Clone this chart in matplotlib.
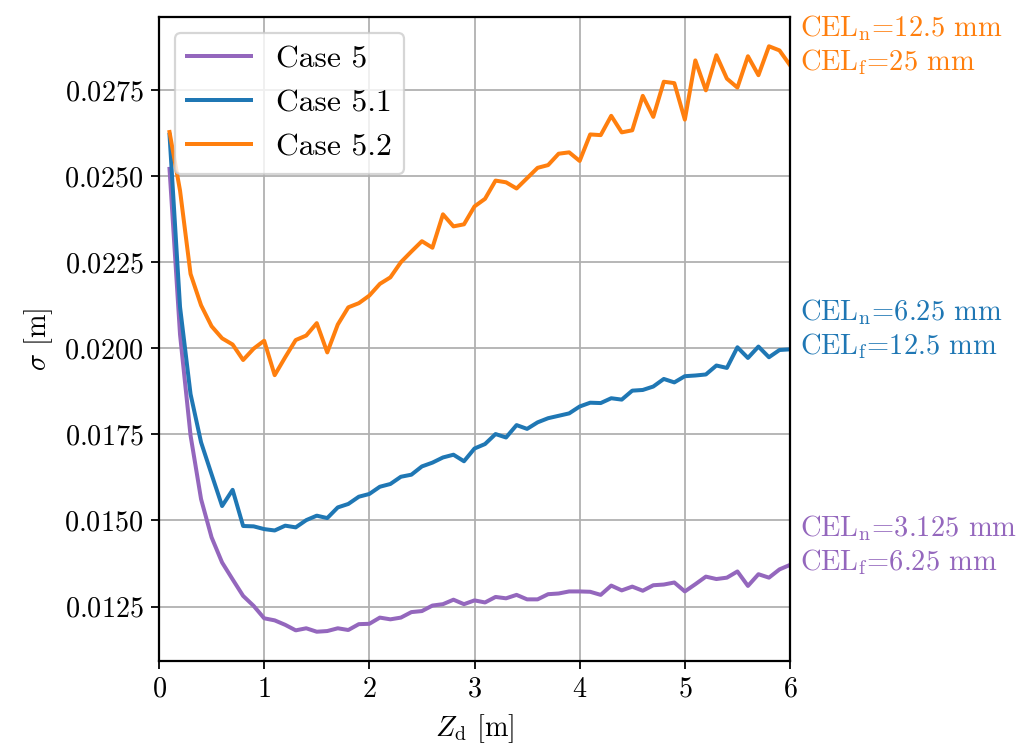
import numpy as np
import matplotlib
matplotlib.use('Agg')
import matplotlib.pyplot as plt
from matplotlib.ticker import MultipleLocator

plt.rcParams['font.family'] = 'serif'
plt.rcParams['font.serif'] = ['cmr10']
plt.rcParams['mathtext.fontset'] = 'cm'
plt.rcParams['axes.formatter.use_mathtext'] = True
plt.rcParams['axes.unicode_minus'] = False
plt.rcParams['font.size'] = 12.7
plt.rcParams['axes.linewidth'] = 1.0

# distance from nozzle [m]
z_d = np.round(np.arange(1, 61) * 0.1, 1)

# Case 5  (CEL_n = 3.125 mm, CEL_f = 6.25 mm)
sigma_case5 = [
    0.02521, 0.02040, 0.01747, 0.01562, 0.01451, 0.01378, 0.01329, 0.01281, 0.01252, 0.01216,
    0.01210, 0.01197, 0.01181, 0.01187, 0.01177, 0.01179, 0.01187, 0.01182, 0.01199, 0.01200,
    0.01218, 0.01213, 0.01218, 0.01234, 0.01237, 0.01253, 0.01257, 0.01270, 0.01257, 0.01268,
    0.01262, 0.01278, 0.01274, 0.01284, 0.01271, 0.01271, 0.01286, 0.01288, 0.01294, 0.01294,
    0.01293, 0.01284, 0.01311, 0.01297, 0.01308, 0.01296, 0.01312, 0.01314, 0.01320, 0.01294,
    0.01315, 0.01337, 0.01330, 0.01334, 0.01352, 0.01310, 0.01344, 0.01334, 0.01358, 0.01371,
]

# Case 5.1  (CEL_n = 6.25 mm, CEL_f = 12.5 mm)
sigma_case51 = [
    0.02620, 0.02120, 0.01867, 0.01727, 0.01634, 0.01542, 0.01589, 0.01484, 0.01483, 0.01475,
    0.01471, 0.01485, 0.01480, 0.01501, 0.01514, 0.01507, 0.01538, 0.01548, 0.01569, 0.01577,
    0.01598, 0.01606, 0.01627, 0.01633, 0.01657, 0.01668, 0.01683, 0.01691, 0.01672, 0.01709,
    0.01722, 0.01751, 0.01741, 0.01777, 0.01766, 0.01785, 0.01797, 0.01804, 0.01811, 0.01831,
    0.01842, 0.01841, 0.01855, 0.01851, 0.01877, 0.01879, 0.01889, 0.01911, 0.01901, 0.01919,
    0.01921, 0.01924, 0.01950, 0.01943, 0.02003, 0.01972, 0.02005, 0.01974, 0.01995, 0.01997,
]

# Case 5.2  (CEL_n = 12.5 mm, CEL_f = 25 mm)
sigma_case52 = [
    0.02628, 0.02458, 0.02216, 0.02125, 0.02064, 0.02029, 0.02011, 0.01966, 0.01999, 0.02022,
    0.01922, 0.01974, 0.02024, 0.02037, 0.02073, 0.01988, 0.02069, 0.02119, 0.02131, 0.02153,
    0.02187, 0.02206, 0.02250, 0.02281, 0.02311, 0.02292, 0.02389, 0.02354, 0.02360, 0.02412,
    0.02434, 0.02487, 0.02482, 0.02464, 0.02494, 0.02524, 0.02532, 0.02565, 0.02569, 0.02544,
    0.02621, 0.02619, 0.02675, 0.02627, 0.02633, 0.02733, 0.02672, 0.02774, 0.02770, 0.02664,
    0.02836, 0.02749, 0.02851, 0.02783, 0.02757, 0.02848, 0.02793, 0.02877, 0.02865, 0.02822,
]

labels = ['Case 5', 'Case 5.1', 'Case 5.2']
colors = ['#9467bd', '#1f77b4', '#ff7f0e']
cel_text = [
    'CEL$_\\mathrm{n}$=3.125 mm\nCEL$_\\mathrm{f}$=6.25 mm',
    'CEL$_\\mathrm{n}$=6.25 mm\nCEL$_\\mathrm{f}$=12.5 mm',
    'CEL$_\\mathrm{n}$=12.5 mm\nCEL$_\\mathrm{f}$=25 mm',
]

fig = plt.figure(figsize=(1022 / 160, 753 / 160), dpi=160)
ax = fig.add_axes([159 / 1022, 1 - 661 / 753, (790 - 159) / 1022, (661 - 17) / 753])

for sig, lab, c, txt in zip([sigma_case5, sigma_case51, sigma_case52], labels, colors, cel_text):
    ax.plot(z_d, sig, color=c, label=lab, lw=1.8)
    ax.annotate(txt, xy=(z_d[-1], sig[-1]), xytext=(4.5, 9), textcoords='offset points',
                color=c, va='center', ha='left', fontsize=12.8, annotation_clip=False)

ax.set_xlim(0, 6)
ax.yaxis.set_major_locator(MultipleLocator(0.0025))
ax.grid(True)
ax.set_xlabel('$Z_\\mathrm{d}$ [m]')
ax.set_ylabel('$\\sigma$ [m]')
ax.legend(loc='upper left', fontsize=14.2)

fig.savefig('out.png', dpi=160)
